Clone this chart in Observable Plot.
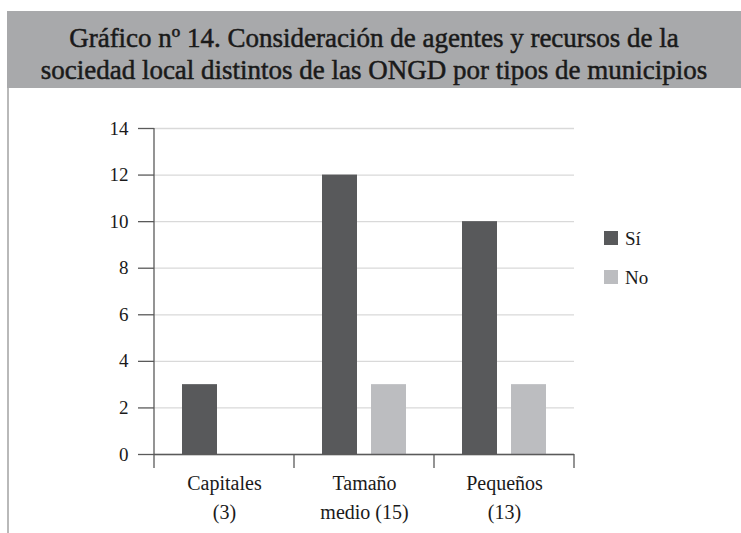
<!DOCTYPE html>
<html>
<head>
<meta charset="utf-8">
<script src="https://cdn.jsdelivr.net/npm/d3@7"></script>
<script src="https://cdn.jsdelivr.net/npm/@observablehq/plot@0.6"></script>
</head>
<body style="margin:0;padding:0;background:#fff">
<div id="page" style="position:relative;width:741px;height:533px;overflow:hidden">
  <div id="title" style="position:absolute;left:7px;top:11px;width:734px;height:77px;background:#a8a9ab;box-sizing:border-box;padding-top:11px;text-align:center;color:#1a1a1a;font-family:'Liberation Serif';font-size:27px;line-height:32px;-webkit-text-stroke:0.5px #1a1a1a"></div>
  <div id="leftline" style="position:absolute;left:7px;top:88px;width:2px;height:445px;background:#b9b9b9"></div>
  <div id="chart" style="position:absolute;left:9px;top:88px"></div>
  <div id="legend"></div>
</div>
<script>
const titleLines = ["Gráfico nº 14. Consideración de agentes y recursos de la",
                    "sociedad local distintos de las ONGD por tipos de municipios"];
const categories = ["Capitales\n(3)", "Tamaño\nmedio (15)", "Pequeños\n(13)"];
const series = ["Sí", "No"];
const siValues = [3, 12, 10];
const noValues = [0, 3, 3];
const yTicks = [0, 2, 4, 6, 8, 10, 12, 14];
const colors = ["#58595b", "#bcbdc0"];
const FONT = "'Liberation Serif'";

document.getElementById("title").innerHTML = titleLines.join("<br>");

const data = categories.flatMap((c, i) => [
  {cat: c, serie: series[0], value: siValues[i]},
  {cat: c, serie: series[1], value: noValues[i]}
]);

const chart = Plot.plot({
  width: 732,
  height: 445,
  marginLeft: 144,
  marginRight: 167,
  marginTop: 40,
  marginBottom: 79,
  style: {fontFamily: FONT, fontSize: "19px", color: "#1a1a1a", background: "transparent", overflow: "visible"},
  fx: {domain: categories, padding: 0, label: null},
  x: {domain: series, paddingInner: 0.2857, paddingOuter: 0.5714, axis: null},
  y: {domain: [0, 14], label: null},
  color: {domain: series, range: colors},
  marks: [
    Plot.gridY(yTicks, {stroke: "#d9d9d9", strokeOpacity: 1, strokeWidth: 1.3}),
    Plot.barY(data, {fx: "cat", x: "serie", y: "value", fill: "serie"}),
    Plot.ruleY([0], {stroke: "#5a5a5a", strokeWidth: 1.3}),
    Plot.axisY(yTicks, {tickSize: 16, tickPadding: 10, stroke: "#5a5a5a", strokeWidth: 1.3, label: null, fill: "#1a1a1a"}),
    Plot.axisFx({anchor: "bottom", tickSize: 0, tickPadding: 15, label: null, lineHeight: 1.45, fontSize: 20, fill: "#1a1a1a"})
  ]
});
document.getElementById("chart").appendChild(chart);

// y axis line and category boundary ticks, positioned from the plot's scales
const fxS = chart.scale("fx");
const yS = chart.scale("y");
const y0 = yS.apply(0), yTop = yS.apply(d3.max(yTicks));
const bounds = categories.map(c => fxS.apply(c)).concat([fxS.apply(categories[categories.length - 1]) + fxS.bandwidth]);
const g = d3.select(chart).append("g").attr("stroke", "#5a5a5a").attr("stroke-width", 1.3);
g.append("line").attr("x1", bounds[0]).attr("x2", bounds[0]).attr("y1", yTop).attr("y2", y0);
bounds.forEach(b => g.append("line").attr("x1", b).attr("x2", b).attr("y1", y0).attr("y2", y0 + 14));

// legend
const legend = document.getElementById("legend");
series.forEach((s, i) => {
  const top = 231 + i * 39;
  const sw = document.createElement("div");
  sw.setAttribute("style", `position:absolute;left:604px;top:${top}px;width:14px;height:14px;background:${colors[i]}`);
  const tx = document.createElement("div");
  tx.setAttribute("style", `position:absolute;left:625px;top:${top - 2}px;font-family:${FONT};font-size:19px;line-height:19px;color:#1a1a1a`);
  tx.textContent = s;
  legend.appendChild(sw); legend.appendChild(tx);
});
</script>
</body>
</html>
